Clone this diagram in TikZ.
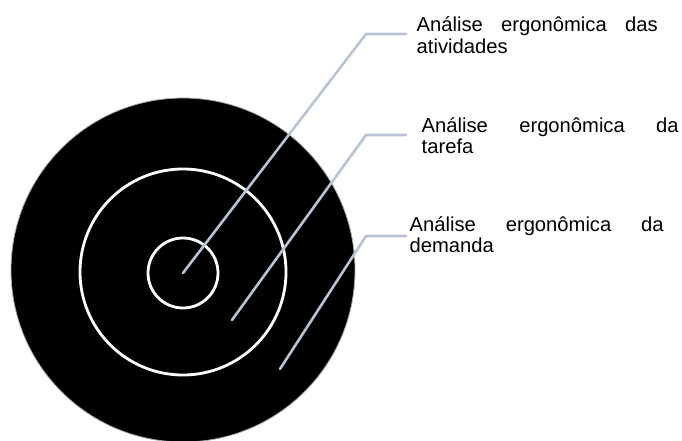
\documentclass[tikz,border=0pt]{standalone}
\usepackage{fontspec}
\setmainfont{Liberation Sans}
\definecolor{leader}{RGB}{184,195,214}
\definecolor{rim}{RGB}{170,170,170}
\begin{document}
\begin{tikzpicture}[x=1pt,y=-1pt,
  leaderline/.style={draw=leader,line width=2.6pt,line cap=round,line join=round},
  ring/.style={draw=white,line width=2.8pt},
  txtlabel/.style={anchor=base west,inner sep=0pt,font=\fontsize{20.2}{21.6}\selectfont}]
\useasboundingbox (0,0) rectangle (682,441);
% target
\fill[black,draw=rim,line width=0.8pt] (183,270) circle[radius=172];
\draw[ring] (183,272) circle[radius=103];
\draw[ring] (183,273) circle[radius=35];
% anchor points
\coordinate (p1) at (183,273);
\coordinate (e1) at (366,34);
\coordinate (h1) at (406,34);
\coordinate (p2) at (232,320);
\coordinate (e2) at (366,135);
\coordinate (h2) at (406,135);
\coordinate (p3) at (280,369);
\coordinate (e3) at (366,236);
\coordinate (h3) at (406,236);
% labels
\node[txtlabel] (t1) at (416.5,32) {\vtop{\hbox to 241pt{Análise\hfill ergonômica\hfill das}\hbox{atividades}}};
\node[txtlabel] (t2) at (421.5,132) {\vtop{\hbox to 257pt{Análise\hfill ergonômica\hfill da}\hbox{tarefa}}};
\node[txtlabel] (t3) at (409.5,231) {\vtop{\hbox to 254pt{Análise\hfill ergonômica\hfill da}\hbox{demanda}}};
% leaders
\draw[leaderline] (p1) -- (e1) -- (h1);
\draw[leaderline] (p2) -- (e2) -- (h2);
\draw[leaderline] (p3) -- (e3) -- (h3);
\end{tikzpicture}
\end{document}
